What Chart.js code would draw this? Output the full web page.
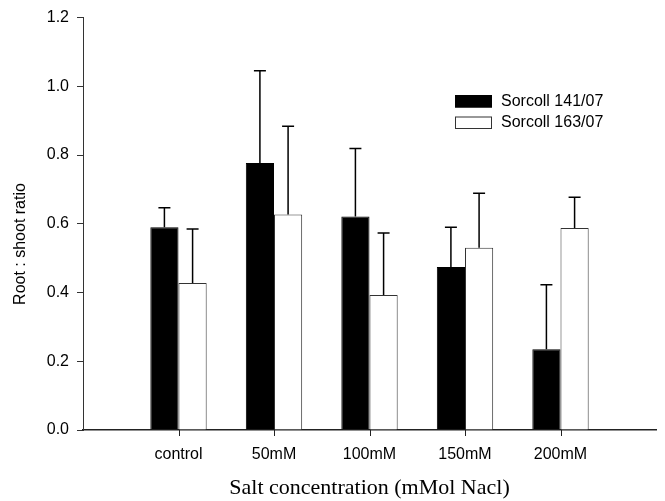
<!DOCTYPE html>
<html>
<head>
<meta charset="utf-8">
<script src="https://cdn.jsdelivr.net/npm/chart.js@4/dist/chart.umd.min.js"></script>
<style>
  html, body { margin: 0; padding: 0; background: #fff; }
  #wrap { width: 665px; height: 501px; }
</style>
</head>
<body>
<div id="wrap"><canvas id="chart" width="665" height="501"></canvas></div>
<script>
// --- data ---
const categories = ['control', '50mM', '100mM', '150mM', '200mM'];
const sorcoll141 = [0.590, 0.777, 0.621, 0.474, 0.235];
const sorcoll141Err = [0.057, 0.268, 0.198, 0.116, 0.188];
const sorcoll163 = [0.428, 0.627, 0.393, 0.530, 0.588];
const sorcoll163Err = [0.157, 0.257, 0.180, 0.159, 0.089];
const yTicks = [0, 0.2, 0.4, 0.6, 0.8, 1.0, 1.2];

const SANS = "'Liberation Sans', Arial, sans-serif";
const SERIF = "'Liberation Serif', 'Times New Roman', serif";

// empty slot on each side so the axis runs from the y axis to the right edge
const labels = ['', ...categories, ''];
const pad = arr => [null, ...arr, null];

// error bars (upper only), x tick marks, axis titles, legend box
const extrasPlugin = {
    id: 'extras',
    afterDatasetsDraw(chart) {
        const ctx = chart.ctx;
        const y = chart.scales.y;
        const errs = [pad(sorcoll141Err), pad(sorcoll163Err)];
        ctx.save();
        ctx.strokeStyle = '#000';
        ctx.lineWidth = 1.5;
        chart.data.datasets.forEach((ds, di) => {
            const meta = chart.getDatasetMeta(di);
            meta.data.forEach((bar, i) => {
                const v = ds.data[i];
                if (v == null) return;
                const top = y.getPixelForValue(v);
                const end = y.getPixelForValue(v + errs[di][i]);
                ctx.beginPath();
                ctx.moveTo(bar.x, top);
                ctx.lineTo(bar.x, end);
                ctx.moveTo(bar.x - 6, end);
                ctx.lineTo(bar.x + 6, end);
                ctx.stroke();
            });
        });
        ctx.restore();
    },
    afterDraw(chart) {
        const ctx = chart.ctx;
        const area = chart.chartArea;
        const x = chart.scales.x;
        ctx.save();

        // tick marks under each category
        ctx.strokeStyle = '#222';
        ctx.lineWidth = 1;
        categories.forEach((c, i) => {
            const px = Math.round(x.getPixelForValue(i + 1)) + 0.5;
            ctx.beginPath();
            ctx.moveTo(px, area.bottom);
            ctx.lineTo(px, area.bottom + 6);
            ctx.stroke();
        });

        ctx.fillStyle = '#000';

        // y title
        ctx.save();
        ctx.translate(21, 244);
        ctx.rotate(-Math.PI / 2);
        ctx.font = '16px ' + SANS;
        ctx.textAlign = 'center';
        ctx.textBaseline = 'middle';
        ctx.fillText('Root : shoot ratio', 0, 0);
        ctx.restore();

        // x title
        ctx.font = '22px ' + SERIF;
        ctx.textAlign = 'center';
        ctx.textBaseline = 'middle';
        ctx.fillText('Salt concentration (mMol Nacl)', (area.left + area.right) / 2, 488);

        // legend
        ctx.font = '16px ' + SANS;
        ctx.textAlign = 'left';
        chart.data.datasets.forEach((ds, i) => {
            const by = 95 + i * 21.5;
            ctx.fillStyle = ds.backgroundColor;
            ctx.fillRect(455, by, 37, 12.5);
            ctx.strokeStyle = ds.borderColor;
            ctx.lineWidth = 1;
            ctx.strokeRect(455.5, by + 0.5, 36, 11.5);
            ctx.fillStyle = '#000';
            ctx.fillText(ds.label, 501, by + 6.5);
        });
        ctx.restore();
    }
};

const ctx = document.getElementById('chart').getContext('2d');
new Chart(ctx, {
    type: 'bar',
    data: {
        labels: labels,
        datasets: [
            {
                label: 'Sorcoll 141/07',
                data: pad(sorcoll141),
                backgroundColor: '#000',
                borderColor: '#000',
                borderWidth: 1
            },
            {
                label: 'Sorcoll 163/07',
                data: pad(sorcoll163),
                backgroundColor: '#fff',
                borderColor: '#333',
                borderWidth: 1
            }
        ]
    },
    options: {
        responsive: false,
        animation: false,
        categoryPercentage: 0.59,
        barPercentage: 1.0,
        layout: { padding: { top: 15, right: 0, bottom: 0, left: 0 } },
        plugins: {
            legend: { display: false },
            tooltip: { enabled: false }
        },
        scales: {
            x: {
                offset: false,
                afterFit: scale => { scale.height = 71; },
                border: { color: '#222', width: 1.5 },
                grid: {
                    drawOnChartArea: false,
                    drawTicks: true,
                    tickLength: 6,
                    color: 'rgba(0,0,0,0)'
                },
                ticks: {
                    color: '#000',
                    padding: 9,
                    maxRotation: 0,
                    autoSkip: false,
                    font: { family: SANS, size: 16 }
                }
            },
            y: {
                min: 0,
                max: 1.2,
                afterFit: scale => { scale.width = 83; },
                afterBuildTicks: scale => { scale.ticks = yTicks.map(v => ({ value: v })); },
                border: { color: '#333', width: 1 },
                grid: {
                    drawOnChartArea: false,
                    drawTicks: true,
                    tickLength: 6,
                    color: '#333'
                },
                ticks: {
                    color: '#000',
                    padding: 8,
                    font: { family: SANS, size: 16 },
                    callback: v => v.toFixed(1)
                }
            }
        }
    },
    plugins: [extrasPlugin]
});
</script>
</body>
</html>
